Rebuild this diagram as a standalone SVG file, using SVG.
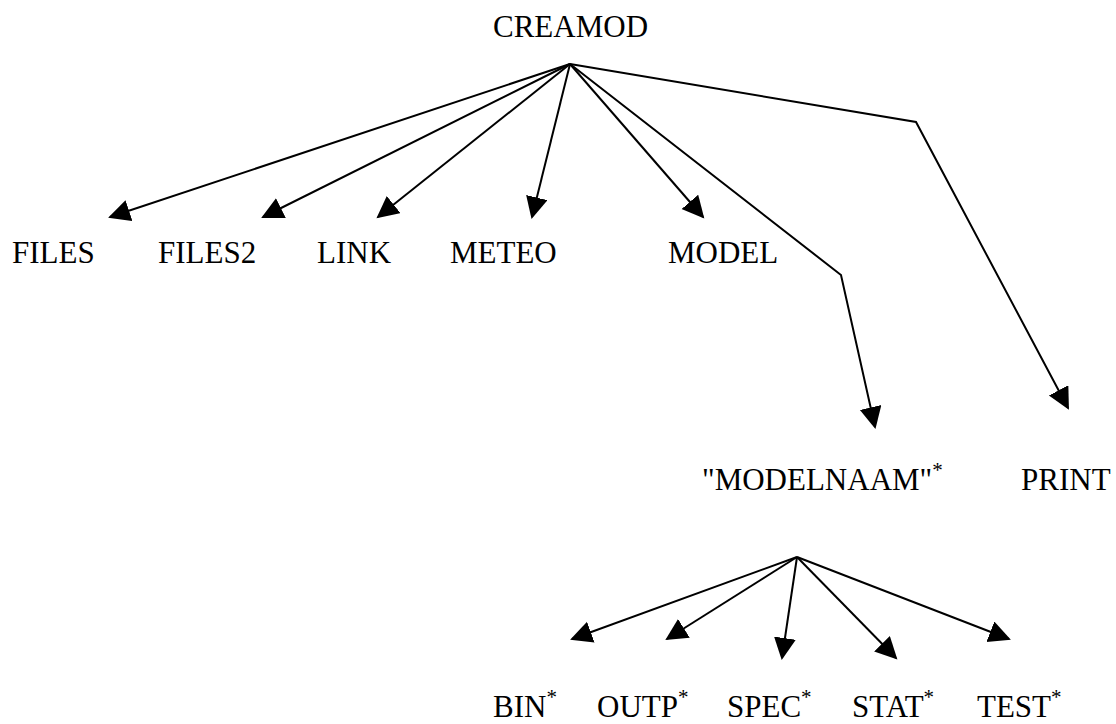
<svg xmlns="http://www.w3.org/2000/svg" width="1116" height="724" viewBox="0 0 1116 724">
<style>
.t{font-size:31px;fill:#000}
.sup{font-size:21px}
.c{fill:none;stroke:#000;stroke-width:2;stroke-linejoin:miter}
</style>
<defs>
<marker id="ah" markerUnits="userSpaceOnUse" markerWidth="26" markerHeight="24" refX="20" refY="11" orient="auto">
<path d="M0,0 L22,11 L0,22 z" fill="#000"/>
</marker>
</defs>
<rect width="1116" height="724" fill="#fff"/>
<g id="connectors">
<line class="c" x1="570" y1="64" x2="110" y2="217" marker-end="url(#ah)"/>
<line class="c" x1="570" y1="64" x2="263" y2="217" marker-end="url(#ah)"/>
<line class="c" x1="570" y1="64" x2="378" y2="217" marker-end="url(#ah)"/>
<line class="c" x1="570" y1="64" x2="532" y2="217" marker-end="url(#ah)"/>
<line class="c" x1="570" y1="64" x2="703" y2="217" marker-end="url(#ah)"/>
<polyline class="c" points="570,64 841,275 875,427" marker-end="url(#ah)"/>
<polyline class="c" points="570,64 916,122 1068,408" marker-end="url(#ah)"/>
<line class="c" x1="797" y1="557" x2="572" y2="639" marker-end="url(#ah)"/>
<line class="c" x1="797" y1="557" x2="667" y2="639" marker-end="url(#ah)"/>
<line class="c" x1="797" y1="557" x2="782" y2="658" marker-end="url(#ah)"/>
<line class="c" x1="797" y1="557" x2="896" y2="658" marker-end="url(#ah)"/>
<line class="c" x1="797" y1="557" x2="1009" y2="639" marker-end="url(#ah)"/>
</g>
<g font-family="Liberation Serif, Times New Roman, serif">
<g id="creamod"><text class="t" x="493" y="37">CREAMOD</text></g>
<g id="files"><text class="t" x="12" y="263">FILES</text></g>
<g id="files2"><text class="t" x="158" y="263">FILES2</text></g>
<g id="link"><text class="t" x="317" y="263">LINK</text></g>
<g id="meteo"><text class="t" x="450" y="263">METEO</text></g>
<g id="model"><text class="t" x="668" y="263">MODEL</text></g>
<g id="modelnaam"><text class="t" x="702" y="490">"MODELNAAM"<tspan class="sup" dy="-13">*</tspan></text></g>
<g id="print"><text class="t" x="1021" y="490">PRINT</text></g>
<g id="bin"><text class="t" x="493" y="717">BIN<tspan class="sup" dy="-13">*</tspan></text></g>
<g id="outp"><text class="t" x="597" y="717">OUTP<tspan class="sup" dy="-13">*</tspan></text></g>
<g id="spec"><text class="t" x="727" y="717">SPEC<tspan class="sup" dy="-13">*</tspan></text></g>
<g id="stat"><text class="t" x="852" y="717">STAT<tspan class="sup" dy="-13">*</tspan></text></g>
<g id="test"><text class="t" x="977" y="717">TEST<tspan class="sup" dy="-13">*</tspan></text></g>
</g>
</svg>
